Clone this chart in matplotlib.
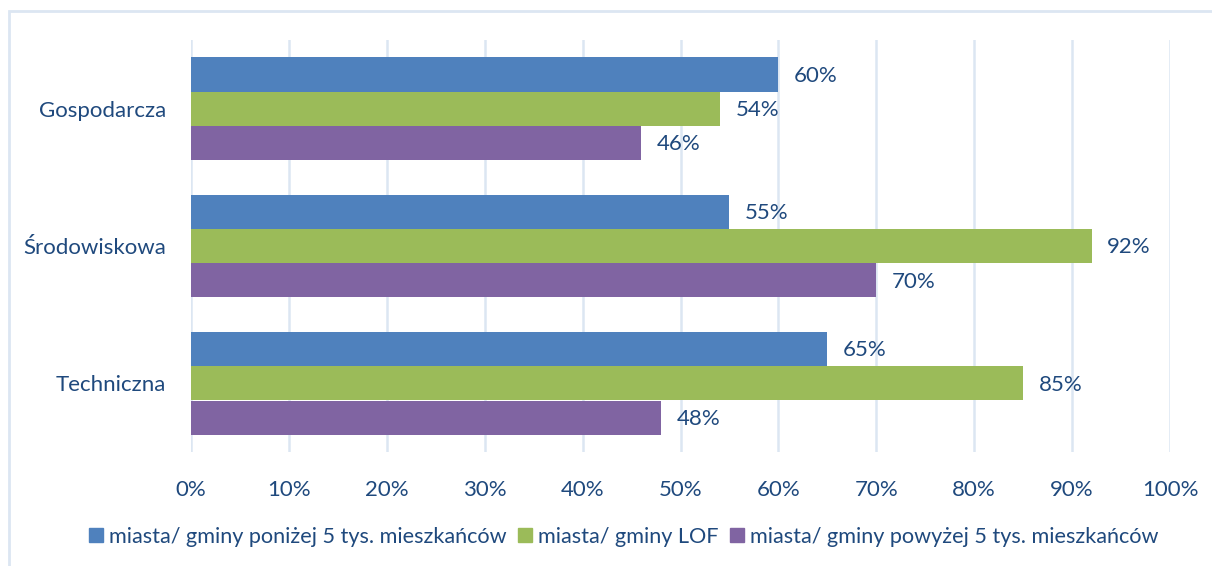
import matplotlib.pyplot as plt
import numpy as np
from matplotlib.patches import Rectangle
from matplotlib.lines import Line2D

categories = ["Gospodarcza", "Środowiskowa", "Techniczna"]
series_names = [
    "miasta/ gminy poniżej 5 tys. mieszkańców",
    "miasta/ gminy LOF",
    "miasta/ gminy powyżej 5 tys. mieszkańców",
]
below_5k = [60, 55, 65]
lof = [54, 92, 85]
above_5k = [46, 70, 48]
x_ticks = [0, 10, 20, 30, 40, 50, 60, 70, 80, 90, 100]

colors = ["#4F81BD", "#9BBB59", "#8064A2"]
text_color = "#1F497D"
grid_color = "#DCE6F2"
fs = 16

plt.rcParams["font.family"] = ["Lato", "DejaVu Sans"]

fig = plt.figure(figsize=(12.12, 5.66), dpi=100)
ax = fig.add_axes([191 / 1212, 1 - 452 / 566, (1170 - 191) / 1212, 412 / 566])

# figure border (only left and top visible)
fig.patches.append(Rectangle((8.5 / 1212, -0.1), 1.2, 1 - 10.5 / 566 + 0.1,
                             transform=fig.transFigure, fill=False,
                             edgecolor=grid_color, linewidth=2))

bar_h = 0.25
pos = np.arange(len(categories))
for i, (vals, col) in enumerate(zip([below_5k, lof, above_5k], colors)):
    y = pos + (i - 1) * bar_h
    ax.barh(y, vals, height=bar_h, color=col, zorder=3)
    for yy, v in zip(y, vals):
        ax.text(v + 1.6, yy + 0.01, f"{v}%", va="center", ha="left",
                fontsize=fs, color=text_color)

ax.set_xlim(0, 100)
ax.set_ylim(2.5, -0.5)
ax.set_yticks(pos)
ax.set_yticklabels(categories)
ax.set_xticks(x_ticks)
ax.set_xticklabels([f"{t}%" for t in x_ticks])
ax.tick_params(axis="both", length=0, labelsize=fs, labelcolor=text_color)
ax.tick_params(axis="x", pad=20)
ax.tick_params(axis="y", pad=18)
ax.grid(axis="x", color=grid_color, linewidth=1.8, zorder=0)
for s in ax.spines.values():
    s.set_visible(False)

handles = [Line2D([], [], marker="s", linestyle="", markersize=9.5,
                  markerfacecolor=c, markeredgecolor=c) for c in colors]
fig.legend(handles, series_names, loc="center", bbox_to_anchor=(622 / 1212, 1 - 537 / 566),
           ncol=3, frameon=False, fontsize=15.6, labelcolor=text_color,
           handletextpad=0.1, columnspacing=0.35, handlelength=1.0)

fig.savefig("out.png", dpi=100)
